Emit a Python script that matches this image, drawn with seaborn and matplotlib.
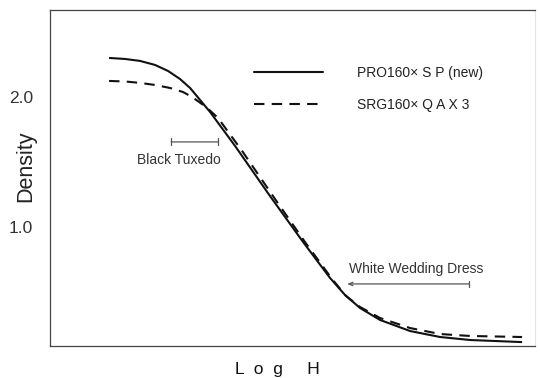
import matplotlib
matplotlib.use('Agg')
import matplotlib.pyplot as plt
from matplotlib.lines import Line2D
import seaborn as sns
import pandas as pd

# ─── Characteristic curves ───────────────────────────────────────────────────
LOG_H_NEW = [0.492, 0.625, 0.75, 0.875, 0.983, 1.083, 1.167, 1.25, 1.333, 1.542,
             1.833, 2.108, 2.333, 2.458, 2.583, 2.75, 3.0, 3.25, 3.5, 3.933]
DENS_NEW = [2.300, 2.292, 2.277, 2.246, 2.200, 2.138, 2.069, 1.977, 1.885, 1.623,
            1.238, 0.885, 0.608, 0.477, 0.377, 0.285, 0.200, 0.154, 0.131, 0.115]

LOG_H_OLD = [0.492, 0.625, 0.75, 0.875, 1.0, 1.108, 1.183, 1.30, 1.40, 1.595,
             1.88, 2.13, 2.35, 2.467, 2.583, 2.75, 3.0, 3.25, 3.5, 3.933]
DENS_OLD = [2.123, 2.119, 2.108, 2.092, 2.069, 2.038, 2.0, 1.923, 1.838, 1.592,
            1.208, 0.877, 0.6, 0.469, 0.385, 0.3, 0.223, 0.177, 0.162, 0.154]

LABEL_NEW = 'PRO160\u00d7 S P (new)'
LABEL_OLD = 'SRG160\u00d7 Q A X 3'

Y_TICKS = [1.0, 2.0]
Y_TICK_LABELS = ['1.0', '2.0']

# tone ranges (log H span, density level)
TUXEDO_RANGE = [1.01, 1.40]
TUXEDO_LEVEL = 1.654
WEDDING_RANGE = [2.475, 3.49]
WEDDING_LEVEL = 0.562

df = pd.concat([
    pd.DataFrame({'logH': LOG_H_NEW, 'density': DENS_NEW, 'film': LABEL_NEW}),
    pd.DataFrame({'logH': LOG_H_OLD, 'density': DENS_OLD, 'film': LABEL_OLD}),
])

sns.set_style('white')
plt.rcParams['font.family'] = ['Liberation Sans', 'DejaVu Sans']

fig = plt.figure(figsize=(5.4, 3.78), dpi=100)
ax = fig.add_axes([0.0926, 0.0847, 0.898, 0.889])

sns.lineplot(data=df, x='logH', y='density', hue='film', style='film',
             palette=['#111111', '#111111'], dashes=[(1, 0), (5, 3.5)],
             linewidth=1.5, ax=ax, legend=False, sort=False)

ax.set_xlim(0, 4.04)
ax.set_ylim(0.085, 2.669)
ax.set_xticks([])
ax.set_yticks(Y_TICKS)
ax.set_yticklabels(Y_TICK_LABELS, fontsize=12.5, color='#333333')
ax.tick_params(axis='y', length=0, pad=12)

ax.set_ylabel('Density', fontsize=15.5, color='#222222', va='center')
ax.yaxis.set_label_coords(-0.05, 0.535)
ax.set_xlabel('L  o  g     H', fontsize=12.5, color='#111111', va='center')
ax.xaxis.set_label_coords(0.468, -0.071)

for side in ['left', 'top', 'bottom']:
    ax.spines[side].set_color('#444444')
    ax.spines[side].set_linewidth(0.9)
ax.spines['right'].set_color('#e4e4e4')
ax.spines['right'].set_linewidth(0.8)

# legend
handles = [Line2D([], [], color='#111111', lw=1.5),
           Line2D([], [], color='#111111', lw=1.5, dashes=(5, 3.5))]
ax.legend(handles, [LABEL_NEW, LABEL_OLD], frameon=False, fontsize=10,
          handlelength=5.0, handletextpad=2.4, labelspacing=1.3,
          loc='upper left', bbox_to_anchor=(0.395, 0.87), labelcolor='#222222')

# Black Tuxedo range
ax.annotate('', xy=(TUXEDO_RANGE[1], TUXEDO_LEVEL), xytext=(TUXEDO_RANGE[0], TUXEDO_LEVEL),
            arrowprops=dict(arrowstyle='|-|, widthA=0.25, widthB=0.25', color='#555555', lw=0.9,
                            shrinkA=0, shrinkB=0))
ax.text(sum(TUXEDO_RANGE) / 2 - 0.13, TUXEDO_LEVEL - 0.14, 'Black Tuxedo',
        ha='center', va='center', fontsize=10, color='#333333')

# White Wedding Dress range
ax.annotate('', xy=(WEDDING_RANGE[0], WEDDING_LEVEL), xytext=(WEDDING_RANGE[1], WEDDING_LEVEL),
            arrowprops=dict(arrowstyle='->, head_length=0.3, head_width=0.12', color='#555555',
                            lw=0.9, shrinkA=0, shrinkB=0))
ax.plot([WEDDING_RANGE[1]] * 2, [WEDDING_LEVEL - 0.025, WEDDING_LEVEL + 0.025],
        color='#555555', lw=0.9)
ax.text(sum(WEDDING_RANGE) / 2 + 0.07, WEDDING_LEVEL + 0.115, 'White Wedding Dress',
        ha='center', va='center', fontsize=10, color='#333333')

plt.savefig('out.png', dpi=100, facecolor='white')
